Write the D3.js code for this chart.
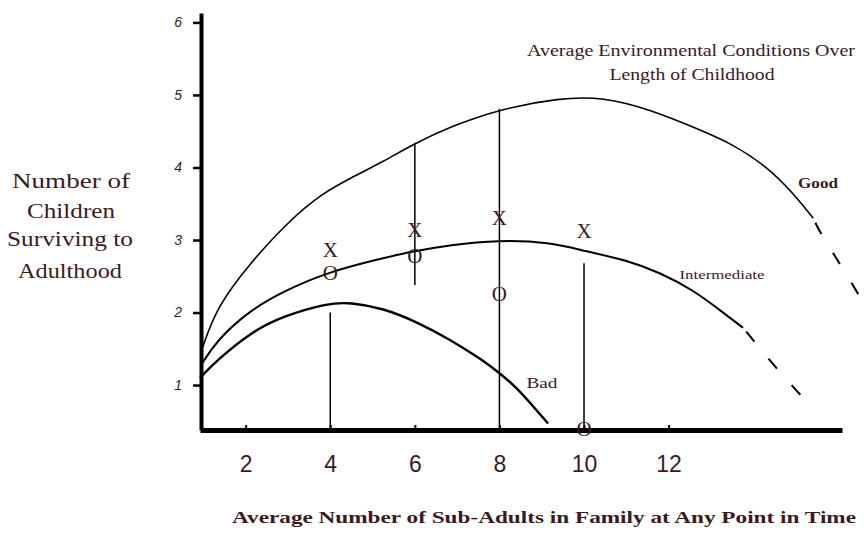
<!DOCTYPE html>
<html>
<head>
<meta charset="utf-8">
<script src="https://cdn.jsdelivr.net/npm/d3@7"></script>
<style>
  body { margin: 0; background: #fff; }
  svg { display: block; }
</style>
</head>
<body>
<div id="chart"></div>
<script>
// curve readings, [sub-adults, children surviving]
const goodCurve = [[0.97,1.50],[1.32,2.08],[2.10,2.68],[3.05,3.28],[3.83,3.65],[4.47,3.85],[5.25,4.08],[5.96,4.32],[6.83,4.56],[7.97,4.80],[9.43,4.96],[10.45,4.97],[11.56,4.80],[12.74,4.52],[13.52,4.32],[14.33,4.01],[14.94,3.65],[15.42,3.30]];
const goodTail = [[15.42,3.30],[15.58,3.10],[16.12,2.61],[16.60,2.14]];
const midCurve = [[0.95,1.28],[1.32,1.62],[2.10,2.03],[2.88,2.29],[3.95,2.56],[5.25,2.75],[5.93,2.84],[6.83,2.93],[7.97,3.00],[9.20,2.97],[10.0,2.85],[11.02,2.72],[11.80,2.55],[12.58,2.31],[13.22,2.03],[13.76,1.79]];
const midTail = [[13.76,1.79],[14.63,1.17],[15.30,0.75]];
const badCurve = [[0.92,1.10],[1.32,1.34],[2.10,1.72],[2.88,1.95],[3.95,2.13],[4.47,2.14],[5.25,2.06],[6.05,1.87],[6.83,1.63],[7.61,1.34],[7.97,1.18],[8.42,0.96],[8.79,0.71],[9.15,0.47]];

// vertical stems
const stemX = [4, 6, 8, 10];
const stemTop = [2.0, 4.34, 4.81, 2.68];
const stemBottom = [0.38, 2.38, 0.38, 0.38];

// X and O marks
const markX = [4, 6, 8, 10];
const xMarkY = [2.86, 3.13, 3.30, 3.12];
const oMarkY = [2.55, 2.78, 2.26, 0.39];

const xTicks = [2, 4, 6, 8, 10, 12];
const yTicks = [1, 2, 3, 4, 5, 6];

const width = 866, height = 534;
const ink = '#3b1a1e';
const serif = '"Liberation Serif", "Times New Roman", serif';

const svg = d3.select('#chart')
  .append('svg')
  .attr('width', width)
  .attr('height', height);

const x = d3.scaleLinear().domain([0.92, 16.1]).range([200, 842]);
const y = d3.scaleLinear().domain([0.38, 6.13]).range([430, 13]);

// axes
const yAxis = svg.append('g')
  .attr('transform', 'translate(201,0)')
  .call(d3.axisLeft(y).tickValues(yTicks).tickFormat(d3.format('d'))
    .tickSize(8).tickSizeOuter(0).tickPadding(11));
yAxis.select('.domain').attr('stroke-width', 4);
yAxis.selectAll('.tick line').attr('stroke-width', 2.5);
yAxis.selectAll('.tick text')
  .attr('fill', ink)
  .style('font-family', '"Liberation Sans", Arial, sans-serif')
  .style('font-style', 'italic')
  .style('font-size', '14px');

const xAxis = svg.append('g')
  .attr('transform', 'translate(0,430)')
  .call(d3.axisBottom(x).tickValues(xTicks).tickFormat(d3.format('d'))
    .tickSize(-5).tickSizeOuter(0).tickPadding(26));
xAxis.select('.domain').attr('stroke-width', 5);
xAxis.selectAll('.tick line').attr('stroke-width', 2);
xAxis.selectAll('.tick text')
  .attr('fill', ink)
  .style('font-family', '"Liberation Sans Narrow", "Liberation Sans", Arial, sans-serif')
  .style('font-size', '23px');

// curves
const line = d3.line()
  .x(d => x(d[0]))
  .y(d => y(d[1]))
  .curve(d3.curveBasis);

const curves = [
  {pts: goodCurve, w: 1.6},
  {pts: midCurve, w: 2},
  {pts: badCurve, w: 2.4}
];
svg.selectAll('path.curve')
  .data(curves)
  .join('path')
  .attr('class', 'curve')
  .attr('d', d => line(d.pts))
  .attr('fill', 'none')
  .attr('stroke', '#000')
  .attr('stroke-width', d => d.w);

svg.selectAll('path.tail')
  .data([goodTail, midTail])
  .join('path')
  .attr('class', 'tail')
  .attr('d', d => line(d))
  .attr('fill', 'none')
  .attr('stroke', '#000')
  .attr('stroke-width', 2)
  .attr('stroke-dasharray', '13,22')
  .attr('stroke-dashoffset', 30);

// stems
svg.selectAll('line.stem')
  .data(stemX)
  .join('line')
  .attr('class', 'stem')
  .attr('x1', d => x(d))
  .attr('x2', d => x(d))
  .attr('y1', (d, i) => y(stemTop[i]))
  .attr('y2', (d, i) => y(stemBottom[i]))
  .attr('stroke', '#000')
  .attr('stroke-width', 1.5);

// marks
const markSize = 21;
svg.selectAll('text.xmark')
  .data(markX)
  .join('text')
  .attr('class', 'xmark')
  .attr('x', d => x(d))
  .attr('y', (d, i) => y(xMarkY[i]) + markSize * 0.33)
  .attr('text-anchor', 'middle')
  .attr('fill', ink)
  .style('font-family', serif)
  .style('font-size', markSize + 'px')
  .text('X');
svg.selectAll('text.omark')
  .data(markX)
  .join('text')
  .attr('class', 'omark')
  .attr('x', d => x(d))
  .attr('y', (d, i) => y(oMarkY[i]) + markSize * 0.33)
  .attr('text-anchor', 'middle')
  .attr('fill', ink)
  .style('font-family', serif)
  .style('font-size', markSize + 'px')
  .text('O');

// labels
function label(txt, cx, by, size, len, weight) {
  svg.append('text')
    .attr('x', cx)
    .attr('y', by)
    .attr('text-anchor', 'middle')
    .attr('fill', ink)
    .attr('textLength', len)
    .attr('lengthAdjust', 'spacingAndGlyphs')
    .style('font-family', serif)
    .style('font-size', size + 'px')
    .style('font-weight', weight || 'normal')
    .text(txt);
}

label('Good', 818, 188, 14, 40, 'bold');
label('Intermediate', 722, 279, 12, 85);
label('Bad', 542, 388, 14, 31);

label('Average Environmental Conditions Over', 691, 56, 16, 328);
label('Length of Childhood', 692, 80, 16, 165);

label('Number of', 71, 188, 22, 118);
label('Children', 71, 218, 22, 88);
label('Surviving to', 70, 246, 22, 126);
label('Adulthood', 70, 278, 22, 104);

label('Average Number of Sub-Adults in Family at Any Point in Time', 544, 523, 17, 624, 'bold');
</script>
</body>
</html>
